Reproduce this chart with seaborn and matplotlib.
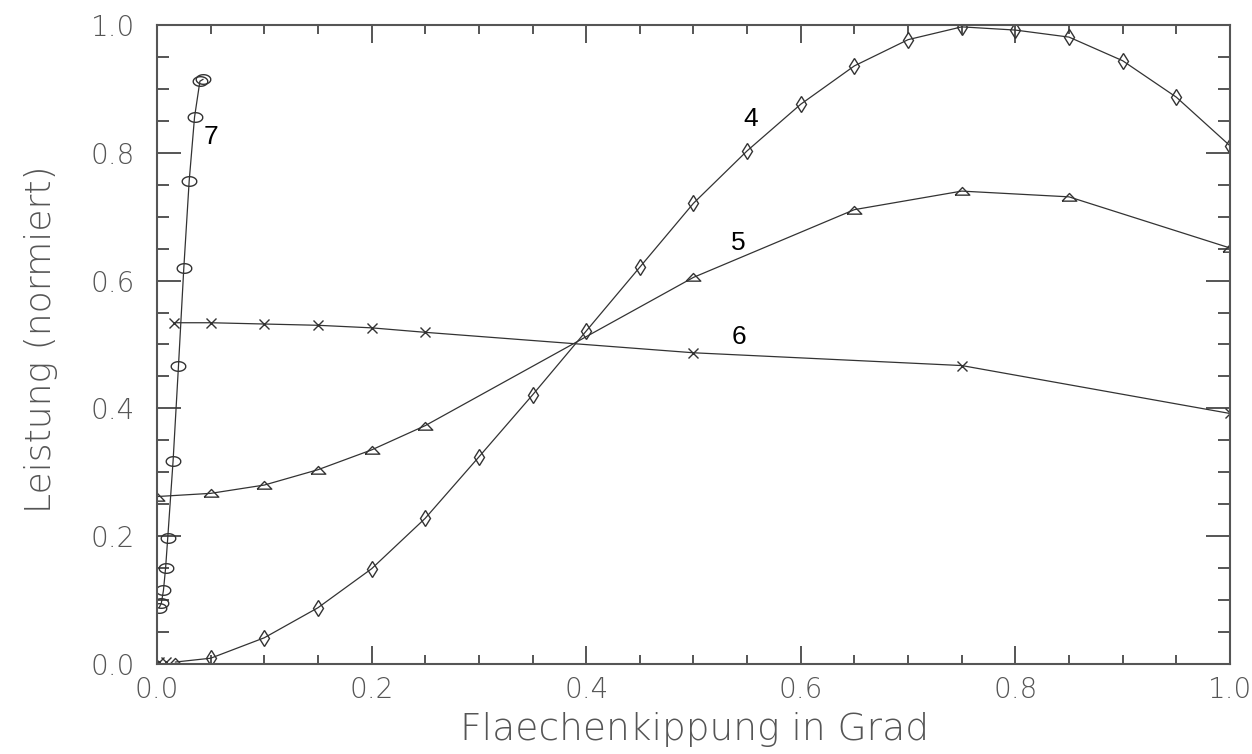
import numpy as np
import pandas as pd
import matplotlib
matplotlib.use("Agg")
import matplotlib.pyplot as plt
from matplotlib.ticker import MultipleLocator, FormatStrFormatter
import seaborn as sns

# curve 4 (diamonds)
x_c4 = [0.05, 0.10, 0.15, 0.20, 0.25, 0.30, 0.35, 0.40, 0.45, 0.50,
        0.55, 0.60, 0.65, 0.70, 0.75, 0.80, 0.85, 0.90, 0.95, 1.00]
y_c4 = [0.009, 0.041, 0.088, 0.149, 0.228, 0.324, 0.421, 0.521, 0.621, 0.721,
        0.803, 0.876, 0.936, 0.977, 0.997, 0.992, 0.981, 0.944, 0.887, 0.811]
# first points of curve 4 near zero (drawn with other symbols)
x_c4_start = [0.002, 0.008, 0.017]
y_c4_start = [0.003, 0.003, 0.003]
marks_c4_start = ["x", "x", "tri"]

# curve 5 (triangles)
x_c5 = [0.0, 0.05, 0.10, 0.15, 0.20, 0.25, 0.50, 0.65, 0.75, 0.85, 1.00]
y_c5 = [0.262, 0.267, 0.280, 0.304, 0.335, 0.373, 0.605, 0.711, 0.740, 0.731, 0.651]

# curve 6 (crosses)
x_c6 = [0.016, 0.05, 0.10, 0.15, 0.20, 0.25, 0.50, 0.75, 1.00]
y_c6 = [0.534, 0.534, 0.532, 0.530, 0.526, 0.519, 0.487, 0.467, 0.392]

# curve 7 (circles)
x_c7 = [0.002, 0.004, 0.006, 0.008, 0.010, 0.015, 0.020, 0.025, 0.030, 0.035, 0.040, 0.043]
y_c7 = [0.088, 0.095, 0.115, 0.150, 0.197, 0.318, 0.466, 0.620, 0.756, 0.856, 0.912, 0.915]

labels = ["4", "5", "6", "7"]
label_x = [0.553, 0.542, 0.542, 0.050]
label_y = [0.853, 0.659, 0.512, 0.825]

# marker shapes
t = np.linspace(0, 2 * np.pi, 40)
ellipse = np.column_stack([np.cos(t), 0.66 * np.sin(t)])
flat_tri = [(-1, -0.5), (1, -0.5), (0, 0.55), (-1, -0.5)]

sns.set_style("ticks")
plt.rcParams["font.family"] = ["DejaVu Sans"]

fig = plt.figure(figsize=(12.52, 7.54), dpi=100)
ax = fig.add_axes([0.1254, 0.1194, 0.857, 0.8475])

lc = "#333333"
common = dict(color=lc, linewidth=0.9, markerfacecolor="none",
              markeredgecolor=lc, markeredgewidth=1.0)

df4 = pd.DataFrame({"x": x_c4_start[-1:] + x_c4, "y": y_c4_start[-1:] + y_c4})
sns.lineplot(data=df4, x="x", y="y", ax=ax, **common)
sns.lineplot(x=x_c4, y=y_c4, ax=ax, marker="d", markersize=8,
             linestyle="none", **common)
for xs, ys, m in zip(x_c4_start, y_c4_start, marks_c4_start):
    if m == "tri":
        ax.plot([xs], [ys], marker=flat_tri, markersize=10.5, linestyle="none",
                markerfacecolor="none", markeredgecolor=lc, markeredgewidth=1.0)
    else:
        ax.plot([xs], [ys], marker="x", markersize=7, linestyle="none",
                markeredgecolor=lc, markeredgewidth=1.0)

sns.lineplot(x=x_c5, y=y_c5, ax=ax, marker=flat_tri, markersize=10.5, **common)
sns.lineplot(x=x_c6, y=y_c6, ax=ax, marker="x", markersize=7, **common)
sns.lineplot(x=x_c7, y=y_c7, ax=ax, marker=ellipse, markersize=10.5, **common)

for lab, lx, ly in zip(labels, label_x, label_y):
    ax.text(lx, ly, lab, ha="center", va="center", fontsize=19,
            family=["Liberation Sans", "DejaVu Sans"], color="black")

ax.set_xlim(0, 1)
ax.set_ylim(0, 1)
ax.xaxis.set_major_locator(MultipleLocator(0.2))
ax.xaxis.set_minor_locator(MultipleLocator(0.05))
ax.yaxis.set_major_locator(MultipleLocator(0.2))
ax.yaxis.set_minor_locator(MultipleLocator(0.05))
ax.xaxis.set_major_formatter(FormatStrFormatter("%.1f"))
ax.yaxis.set_major_formatter(FormatStrFormatter("%.1f"))

axc = "#555555"
txt = "#555555"
ax.tick_params(axis="x", which="major", direction="in", length=13, width=1.4,
               color=axc, top=True, pad=9, labelsize=20, labelcolor=txt)
ax.tick_params(axis="x", which="minor", direction="in", length=6.5, width=1.4,
               color=axc, top=True)
ax.tick_params(axis="y", which="major", direction="in", length=17, width=1.4,
               color=axc, right=True, pad=16, labelsize=20, labelcolor=txt)
ax.tick_params(axis="y", which="minor", direction="in", length=8.6, width=1.4,
               color=axc, right=True)
for lbl in ax.get_xticklabels() + ax.get_yticklabels():
    lbl.set_fontweight("light")
for s in ax.spines.values():
    s.set_color(axc)
    s.set_linewidth(1.5)

ax.set_xlabel("Flaechenkippung in Grad", fontsize=27, fontweight="light",
              color=txt, va="center")
ax.set_ylabel("Leistung (normiert)", fontsize=26, fontweight="light",
              color=txt, va="center")
ax.xaxis.set_label_coords(0.501, -0.102)
ax.yaxis.set_label_coords(-0.108, 0.509)

fig.savefig("out.png", dpi=100)
